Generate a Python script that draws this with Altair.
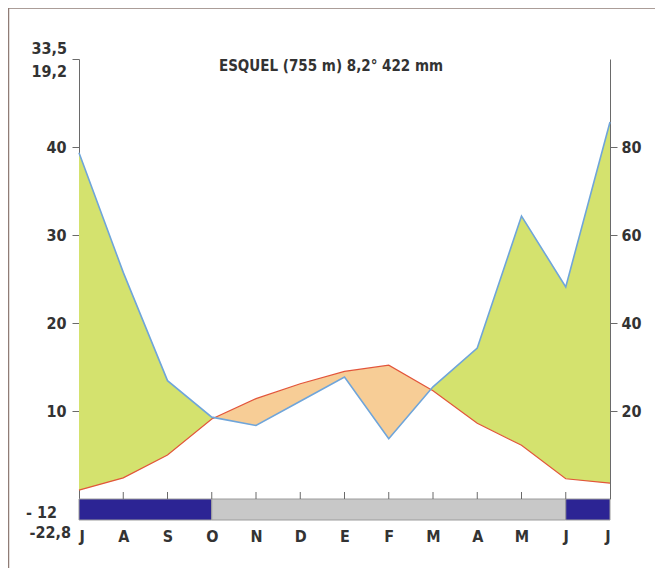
import json
import altair as alt
import pandas as pd

# ---------------- data ----------------
months = ["J", "A", "S", "O", "N", "D", "E", "F", "M", "A", "M", "J", "J"]
temp = [1.0, 2.4, 5.0, 9.1, 11.4, 13.1, 14.5, 15.2, 12.3, 8.6, 6.1, 2.3, 1.8]
precip = [78.7, 51.5, 26.9, 18.6, 16.7, 22.2, 27.7, 13.7, 25.5, 34.3, 64.3, 48.2, 85.7]

frost_start = [0, 3, 11]
frost_end = [3, 11, 12]
frost_kind = ["segura", "probable", "segura"]

title_text = "ESQUEL (755 m) 8,2°  422 mm"
top_labels = ["33,5", "19,2"]
bottom_labels = ["- 12", "-22,8"]

temp_ticks = [10, 20, 30, 40, 50]
precip_ticks = [20, 40, 60, 80]

# ---------------- derived tables ----------------
n = len(months)
idx = list(range(n))
lines_df = pd.DataFrame({"x": idx, "t": temp, "p": precip})

rows = []
for i in range(n):
    t = temp[i]
    p2 = precip[i] / 2.0
    rows.append({"x": i, "t": t, "p2": p2, "lo": min(t, p2)})
    if i < n - 1:
        d0 = p2 - t
        d1 = precip[i + 1] / 2.0 - temp[i + 1]
        if d0 * d1 < 0:
            f = d0 / (d0 - d1)
            tc = t + f * (temp[i + 1] - t)
            rows.append({"x": i + f, "t": tc, "p2": tc, "lo": tc})
fill_df = pd.DataFrame(rows)

frost_df = pd.DataFrame({"x": frost_start, "x2": frost_end, "kind": frost_kind})
tick_df = pd.DataFrame({"x": idx[1:-1]})

# ---------------- styling ----------------
FONT = "Liberation Sans Narrow, DejaVu Sans Condensed, Arial Narrow, Roboto, sans-serif"
W, H = 531, 440
TEXT_COL = "#333333"
AX_COL = "#6a6a6a"

month_expr = json.dumps(months) + "[datum.value]"
x_axis = alt.Axis(values=idx, labelExpr=month_expr, domain=False, ticks=False,
                  grid=False, labelPadding=29, labelFont=FONT, labelFontSize=16,
                  labelFontWeight="bold", labelColor=TEXT_COL, title=None)
xs = alt.Scale(domain=[0, 12], nice=False, zero=False)
xenc = alt.X("x:Q", scale=xs, axis=x_axis, title=None)

tscale = alt.Scale(domain=[0, 50], nice=False, zero=False)
pscale = alt.Scale(domain=[0, 100], nice=False, zero=False)

left_axis = alt.Axis(values=temp_ticks, labelExpr="datum.value == 50 ? '' : datum.value",
                     orient="left", grid=False, tickSize=7, labelPadding=6,
                     domainColor=AX_COL, tickColor=AX_COL, labelFont=FONT,
                     labelFontSize=16, labelFontWeight="bold", labelColor=TEXT_COL, title=None)
right_axis = alt.Axis(values=precip_ticks, orient="right", grid=False, tickSize=7,
                      labelPadding=4, domainColor=AX_COL, tickColor=AX_COL, labelFont=FONT,
                      labelFontSize=16, labelFontWeight="bold", labelColor=TEXT_COL, title=None)

# ---------------- layers ----------------
green = alt.Chart(fill_df).mark_area(color="#d4e26e", opacity=1).encode(
    x=xenc, y=alt.Y("p2:Q", scale=tscale, axis=None), y2="lo:Q")
orange = alt.Chart(fill_df).mark_area(color="#f7cd96", opacity=1).encode(
    x=xenc, y=alt.Y("t:Q", scale=tscale, axis=None), y2="lo:Q")
red = alt.Chart(lines_df).mark_line(color="#e2553a", strokeWidth=1.2).encode(
    x=xenc, y=alt.Y("t:Q", scale=tscale, axis=left_axis))
blue = alt.Chart(lines_df).mark_line(color="#6fa5da", strokeWidth=1.6).encode(
    x=xenc, y=alt.Y("p:Q", scale=pscale, axis=right_axis))

frost = alt.Chart(frost_df).mark_rect(stroke="#9c9c9c", strokeWidth=1).encode(
    x=xenc, x2="x2:Q", y=alt.value(H), y2=alt.value(H + 21),
    color=alt.Color("kind:N", scale=alt.Scale(domain=["segura", "probable"],
                                               range=["#2c2494", "#c8c8c8"]), legend=None))
mticks = alt.Chart(tick_df).mark_rule(color=AX_COL, strokeWidth=1).encode(
    x=xenc, y=alt.value(H - 7), y2=alt.value(H))

def label(txt, x, y, align="right", size=16):
    return alt.Chart(pd.DataFrame({"t": [txt]})).mark_text(
        align=align, baseline="middle", font=FONT, fontSize=size, fontWeight="bold",
        color=TEXT_COL).encode(x=alt.value(x), y=alt.value(y), text="t:N")

title = label(title_text, 252, 7, align="center", size=15)
l1 = label(top_labels[0], -12, -10)
l2 = label(top_labels[1], -12, 13)
l3 = label(bottom_labels[0], -22, 454)
l4 = label(bottom_labels[1], -8, 474)

frame_top = alt.Chart(pd.DataFrame({"a": [0]})).mark_rule(color="#8f7c76", strokeWidth=1.5).encode(
    x=alt.value(-71), x2=alt.value(W + 45), y=alt.value(-51))
frame_left = alt.Chart(pd.DataFrame({"a": [0]})).mark_rule(color="#8f7c76", strokeWidth=1.5).encode(
    x=alt.value(-70.5), y=alt.value(-51), y2=alt.value(H + 69))

chart = alt.layer(
    green, orange, red, blue, frost, mticks, title, l1, l2, l3, l4, frame_top, frame_left
).resolve_scale(y="independent").properties(
    width=W, height=H,
    padding={"left": 71, "top": 51, "right": 45, "bottom": 69},
    autosize=alt.AutoSizeParams(type="none"),
    background="white",
).configure_view(stroke=None)

chart.save("out.html", embed_options={"renderer": "svg", "actions": False})
